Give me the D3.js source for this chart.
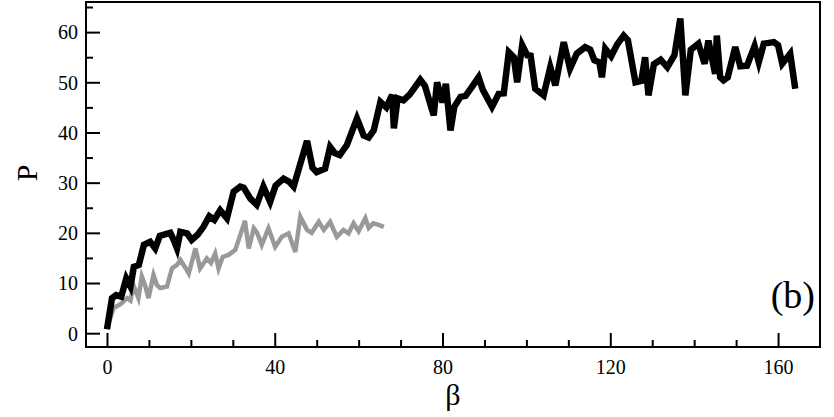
<!DOCTYPE html>
<html><head><meta charset="utf-8">
<script src="https://cdn.jsdelivr.net/npm/d3@7"></script>
<style>body{margin:0;background:#fff}svg{display:block}</style>
</head><body>
<script>
// Black series
const blackBeta = [0,1.2,2.2,3.4,4.6,5.6,6.4,7.6,8.8,10.3,11.5,12.6,14.2,15.1,15.9,16.7,17.5,19.1,20.2,21.6,23.0,24.4,25.6,27.0,28.6,30.2,31.8,32.6,34.2,35.7,37.3,38.9,40.2,42.1,43.4,44.5,46.0,47.7,49.0,50.0,52.0,53.2,54.3,55.5,57.2,59.6,61.2,62.4,63.6,65.2,66.6,68.0,68.4,69.3,70.7,72.2,74.7,75.8,77.9,78.7,80.0,80.8,81.9,82.8,84.3,85.5,86.6,88.6,89.6,91.8,93.4,94.6,95.8,97.0,97.8,99.0,100.2,101.0,102.1,104.1,105.7,106.9,108.9,110.4,112.0,114.0,115.2,116.2,117.4,118.0,118.8,120.2,121.6,123.2,124.2,126.0,127.4,128.3,129.1,130.4,132.0,133.6,135.3,136.7,137.9,139.2,141.0,142.5,143.4,145.0,145.4,146.2,147.0,148.0,149.8,151.0,152.6,154.4,155.4,156.6,159.0,160.0,161.0,162.9,164.1];
const blackP = [0.8,7.0,7.6,7.3,10.9,9.3,13.2,13.6,17.6,18.2,16.9,19.4,19.8,20.0,18.6,16.9,20.2,19.9,18.6,19.6,21.2,23.3,22.6,24.5,22.9,28.2,29.2,29.0,26.8,25.6,29.2,26.2,29.4,30.8,30.2,29.2,33.5,38.3,33.0,32.1,32.8,37.1,35.9,35.5,37.5,42.8,39.4,39.0,40.4,46.1,45.0,47.5,40.8,46.8,46.4,47.6,50.5,49.3,43.4,50.0,46.0,49.7,40.4,45.1,47.1,47.3,48.6,51.0,48.5,45.1,47.7,47.8,56.0,55.0,50.0,57.4,55.4,55.3,48.7,47.4,53.0,49.4,58.0,52.7,55.7,57.0,56.5,54.4,54.0,51.0,56.7,55.2,57.5,59.3,58.4,50.0,50.3,55.0,47.4,53.6,54.5,53.0,55.4,62.7,47.4,56.5,57.7,53.7,58.3,51.7,59.3,51.0,50.4,51.0,57.0,53.2,53.3,57.2,54.0,57.7,58.0,57.4,53.7,55.7,48.7];
// Gray series
const grayBeta = [0,1.6,3.2,4.8,5.6,6.3,7.5,8.3,9.1,9.9,11.1,11.9,12.7,14.3,15.5,16.7,17.5,18.8,19.5,21.1,22.2,23.8,24.8,25.8,26.6,27.6,29.0,30.6,31.8,32.9,33.8,35.0,35.8,36.9,38.5,40.1,41.7,43.3,44.9,46.1,47.7,48.8,50.5,51.7,53.2,54.8,56.4,57.6,58.8,60.0,61.6,62.4,63.5,64.8,66.0];
const grayP = [1.0,5.0,5.8,7.0,6.5,9.6,7.0,11.3,9.5,7.0,11.6,9.6,9.0,9.3,12.9,13.6,14.6,12.9,11.9,16.9,12.9,14.9,14.0,15.9,12.9,15.2,15.6,16.6,19.6,22.4,16.9,20.9,20.0,17.6,20.9,17.2,19.2,19.9,16.2,23.2,20.6,20.0,22.2,20.6,22.2,19.2,20.6,19.9,21.9,20.3,22.9,21.0,21.9,21.6,21.2];
// Ticks
const xMajor = [0,40,80,120,160];
const xMinor = [10,20,30,50,60,70,90,100,110,130,140,150];
const yMajor = [0,10,20,30,40,50,60];
const yMinor = [5,15,25,35,45,55,65];

const W = 834, H = 417;
const m = {left:86, right:14, top:2, bottom:70};
const iw = W - m.left - m.right, ih = H - m.top - m.bottom;
const font = '"Liberation Serif", LiberationSerif, Tinos, "Noto Serif", "DejaVu Serif", FreeSerif, "Nimbus Roman", "Nimbus Roman No9 L", Times, serif';
const svg = d3.select("body").append("svg").attr("width", W).attr("height", H);
const g = svg.append("g").attr("transform", `translate(${m.left},${m.top})`);
const x = d3.scaleLinear().domain([-5.0, 170.0]).range([0, iw]);
const y = d3.scaleLinear().domain([-2.75, 66.0]).range([ih, 0]);

const line = d3.line().x(d => x(d[0])).y(d => y(d[1]));
g.append("path").datum(d3.zip(grayBeta, grayP)).attr("d", line)
  .attr("fill","none").attr("stroke","#999").attr("stroke-width",4.5).attr("stroke-linejoin","miter");
g.append("path").datum(d3.zip(blackBeta, blackP)).attr("d", line)
  .attr("fill","none").attr("stroke","#000").attr("stroke-width",6.5).attr("stroke-linejoin","miter");

// Axes (ticks inward)
const xAxisMaj = d3.axisBottom(x).tickValues(xMajor).tickSize(-14).tickPadding(0).tickFormat(d3.format("d"));
const xAxisMin = d3.axisBottom(x).tickValues(xMinor).tickSize(-7).tickFormat("");
const yAxisMaj = d3.axisLeft(y).tickValues(yMajor).tickSize(-14).tickPadding(0).tickFormat(d3.format("d"));
const yAxisMin = d3.axisLeft(y).tickValues(yMinor).tickSize(-7).tickFormat("");

function style(sel){
  sel.attr("font-family", font).attr("font-size", 20);
  sel.select(".domain").remove();
  sel.selectAll(".tick line").attr("stroke","#000").attr("stroke-width",2);
  sel.selectAll("text").attr("fill","#000");
}
const gx = g.append("g").attr("transform",`translate(0,${ih})`).call(xAxisMaj).call(style);
gx.selectAll("text").attr("y",13).attr("dy","0.71em");
g.append("g").attr("transform",`translate(0,${ih})`).call(xAxisMin).call(style);
const gy = g.append("g").call(yAxisMaj).call(style);
gy.selectAll("text").attr("x",-8).attr("dy","0.34em");
g.append("g").call(yAxisMin).call(style);

// Frame
g.append("rect").attr("x",0).attr("y",0).attr("width",iw).attr("height",ih)
  .attr("fill","none").attr("stroke","#000").attr("stroke-width",2);

// Axis labels
svg.append("text").attr("x", m.left + iw/2).attr("y", 405).attr("text-anchor","middle")
  .attr("font-family",font).attr("font-size",30).text("β");
svg.append("text").attr("transform","translate(37,173) rotate(-90)").attr("text-anchor","middle")
  .attr("font-family",font).attr("font-size",30).text("P");
svg.append("text").attr("x", 815).attr("y", 308).attr("text-anchor","end")
  .attr("font-family",font).attr("font-size",38).text("(b)");
</script>
</body></html>
